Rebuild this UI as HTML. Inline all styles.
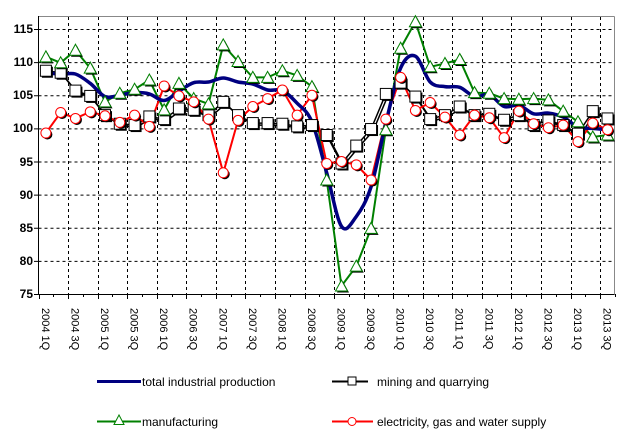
<!DOCTYPE html>
<html><head><meta charset="utf-8"><style>
html,body{margin:0;padding:0;background:#fff;}
svg{display:block;font-family:"Liberation Sans",Arial,sans-serif;}
</style></head><body>
<svg id="c" width="632" height="446" viewBox="0 0 632 446" xmlns="http://www.w3.org/2000/svg">
<rect width="632" height="446" fill="#fff"/>
<g id="grid" stroke="#000" stroke-width="1" stroke-dasharray="3,3" fill="none"></g>
<line x1="38.5" y1="16.5" x2="614.5" y2="16.5" stroke="#888"/>
<line x1="614.5" y1="16.5" x2="614.5" y2="294.5" stroke="#888"/>
<line x1="38.5" y1="16" x2="38.5" y2="294.5" stroke="#000"/>
<line x1="34" y1="294.5" x2="614.5" y2="294.5" stroke="#000"/>
<g id="ticks" stroke="#000"></g>
<g font-size="12" font-weight="bold" text-anchor="end" fill="#000">
<text x="33" y="33">115</text><text x="33" y="66">110</text><text x="33" y="99">105</text>
<text x="33" y="132">100</text><text x="33" y="166">95</text><text x="33" y="199">90</text>
<text x="33" y="232">85</text><text x="33" y="265">80</text><text x="33" y="298">75</text>
</g>
<g id="xl" font-size="11" fill="#000"></g>
<g id="series"></g>
<g font-size="12" fill="#000">
<line x1="97" y1="381.5" x2="141" y2="381.5" stroke="#000080" stroke-width="3"/>
<text x="142" y="386">total industrial production</text>
<line x1="332" y1="381.5" x2="368" y2="381.5" stroke="#000" stroke-width="2"/>
<rect x="348" y="377" width="8" height="8" fill="#fff" stroke="#000"/>
<text x="377" y="386">mining and quarrying</text>
<line x1="97" y1="421.5" x2="141" y2="421.5" stroke="#008000" stroke-width="2"/>
<polygon points="119,415 114,424.5 124,424.5" fill="#fff" stroke="#008000"/>
<text x="142" y="426">manufacturing</text>
<line x1="332" y1="421.5" x2="373" y2="421.5" stroke="#f00" stroke-width="2"/>
<circle cx="352" cy="421.5" r="4" fill="#fff" stroke="#f00"/>
<text x="377" y="426">electricity, gas and water supply</text>
</g>
</svg>
<script>
(function(){
var NS="http://www.w3.org/2000/svg";
function el(p,t,a){var e=document.createElementNS(NS,t);for(var k in a)e.setAttribute(k,a[k]);p.appendChild(e);return e;}
var L=38.5,W=14.78;
function X(i){return L+W*(i+0.5);}
function Y(v){return 294-(v-75)*6.625;}
var g=document.getElementById('grid');
for(var v=80;v<=115;v+=5){el(g,'line',{x1:L,y1:Y(v)+.5,x2:614,y2:Y(v)+.5});}
for(var k=1;k<=19;k++){var x=Math.round(L+2*W*k)+.5;el(g,'line',{x1:x,y1:17,x2:x,y2:294});}
var t=document.getElementById('ticks');
for(var k=0;k<=39;k++){var x=Math.round(L+W*k)+.5;el(t,'line',{x1:x,y1:294,x2:x,y2:(k%2?297:299)});}
for(var v=75;v<=115;v+=5){el(t,'line',{x1:34,y1:Y(v)+.5,x2:38.5,y2:Y(v)+.5});}
var xl=document.getElementById('xl');
for(var k=0;k<20;k++){var yr=2004+Math.floor(k/2),q=(k%2?'3Q':'1Q');
var x=X(2*k)-4;var tx=el(xl,'text',{x:0,y:0,transform:'translate('+x+',308) rotate(90)'});tx.textContent=yr+' '+q;}
var blue=[108.4,108.2,108.2,106.8,104.8,105.0,105.4,105.2,104.2,105.6,106.9,107.0,107.6,107.0,106.7,105.8,105.7,103.8,101.0,93.3,85.2,86.7,91.2,100.8,109.1,110.9,107.0,106.3,106.2,104.8,105.1,103.3,103.5,102.2,102.3,101.7,100.2,100.0,99.8];
var green=[110.8,109.9,111.8,109.1,104.0,105.3,105.9,107.3,102.8,106.8,104.5,103.7,112.6,110.1,107.7,107.7,108.7,108.0,106.3,92.2,76.2,79.2,84.9,99.8,112.1,116.1,109.3,109.8,110.4,105.4,105.3,104.5,104.4,104.5,104.3,102.6,101.0,98.7,99.0];
var black=[108.7,108.4,105.7,104.9,102.0,100.7,100.5,101.8,101.4,103.0,102.8,102.0,104.0,102.0,100.8,100.8,100.7,100.3,100.5,99.0,94.7,97.4,99.9,105.2,106.9,104.8,101.4,102.0,103.3,102.0,102.2,101.3,102.0,100.5,101.2,100.5,99.2,102.6,101.5];
var red=[99.3,102.4,101.5,102.5,101.9,100.9,102.0,100.3,106.4,104.9,104.0,101.4,93.3,101.2,103.3,104.5,105.8,102.0,105.0,94.7,95.0,94.5,92.2,101.4,107.7,102.7,103.9,101.7,99.0,102.0,101.6,98.6,102.6,100.7,100.1,100.5,98.0,100.8,99.8];
var s=document.getElementById('series');
function pts(a,dx,dy){return a.map(function(v,i){return (X(i)+(dx||0)).toFixed(1)+','+(Y(v)+(dy||0)).toFixed(1);}).join(' ');}
// black line with shadow
el(s,'polyline',{points:pts(black,2,2),fill:'none',stroke:'#000','stroke-width':1.5});
el(s,'polyline',{points:pts(black),fill:'none',stroke:'#000','stroke-width':1.5});
// green
el(s,'polyline',{points:pts(green),fill:'none',stroke:'#008000','stroke-width':2});
// red
el(s,'polyline',{points:pts(red),fill:'none',stroke:'#f00','stroke-width':2});
// blue smooth
var d='M'+X(0)+','+Y(blue[0]);
for(var i=0;i<blue.length-1;i++){
var p0=[X(Math.max(i-1,0)),Y(blue[Math.max(i-1,0)])],p1=[X(i),Y(blue[i])],p2=[X(i+1),Y(blue[i+1])],p3=[X(Math.min(i+2,blue.length-1)),Y(blue[Math.min(i+2,blue.length-1)])];
var c1=[p1[0]+(p2[0]-p0[0])/6,p1[1]+(p2[1]-p0[1])/6],c2=[p2[0]-(p3[0]-p1[0])/6,p2[1]-(p3[1]-p1[1])/6];
d+=' C'+c1[0].toFixed(1)+','+c1[1].toFixed(1)+' '+c2[0].toFixed(1)+','+c2[1].toFixed(1)+' '+p2[0].toFixed(1)+','+p2[1].toFixed(1);}
el(s,'path',{d:d,fill:'none',stroke:'#000080','stroke-width':3.5});
// markers
black.forEach(function(v,i){var x=X(i),y=Y(v);el(s,'rect',{x:x-4,y:y-4,width:11,height:11,fill:'#000'});el(s,'rect',{x:x-5.5,y:y-5.5,width:11,height:11,fill:'#fff',stroke:'#000'});});
green.forEach(function(v,i){var x=X(i),y=Y(v);
el(s,'polygon',{points:(x+1.5)+','+(y-4.5)+' '+(x-4.5)+','+(y+6.5)+' '+(x+7.5)+','+(y+6.5),fill:'#000'});
el(s,'polygon',{points:x+','+(y-6)+' '+(x-6)+','+(y+5)+' '+(x+6)+','+(y+5),fill:'#fff',stroke:'#008000'});});
red.forEach(function(v,i){var x=X(i),y=Y(v);el(s,'circle',{cx:x+1.5,cy:y+1.5,r:5,fill:'#000'});el(s,'circle',{cx:x,cy:y,r:5,fill:'#fff',stroke:'#f00'});});
})();
</script>
</body></html>
